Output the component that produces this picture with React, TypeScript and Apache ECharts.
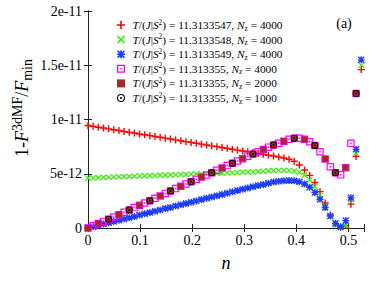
import React, { useEffect, useRef } from 'react';
import * as echarts from 'echarts';

// density grid (Nz = 4000)
const nFine = [
  0, 0.0099, 0.0198, 0.0297, 0.0396, 0.0495, 0.0594, 0.0693, 0.0792, 0.0891,
  0.099, 0.1089, 0.1188, 0.1287, 0.1386, 0.1485, 0.1584, 0.1683, 0.1782, 0.1881,
  0.198, 0.2079, 0.2178, 0.2277, 0.2376, 0.2475, 0.2574, 0.2673, 0.2772, 0.2871,
  0.297, 0.3069, 0.3168, 0.3267, 0.3366, 0.3465, 0.3564, 0.3663, 0.3762, 0.3861,
  0.396, 0.4059, 0.4158, 0.4257, 0.4356, 0.4455, 0.4554, 0.4653, 0.4752, 0.4851,
  0.495, 0.5049, 0.5148, 0.5247,
];
// values in units of 1e-12
const redVals = [
  9.45, 9.37, 9.29, 9.22, 9.14, 9.06, 8.98, 8.90, 8.82, 8.75,
  8.67, 8.59, 8.51, 8.43, 8.36, 8.28, 8.20, 8.12, 8.04, 7.96,
  7.89, 7.81, 7.73, 7.65, 7.57, 7.50, 7.42, 7.34, 7.26, 7.18,
  7.10, 7.03, 6.95, 6.87, 6.79, 6.71, 6.63, 6.55, 6.45, 6.33,
  6.15, 5.80, 5.35, 4.85, 4.20, 3.35, 2.30, 1.20, 0.40, 0.06,
  0.20, 2.20, 6.60, 14.6,
];
const greenVals = [
  4.60, 4.62, 4.64, 4.66, 4.68, 4.70, 4.72, 4.73, 4.75, 4.77,
  4.79, 4.81, 4.82, 4.84, 4.86, 4.88, 4.89, 4.91, 4.93, 4.94,
  4.96, 4.98, 4.99, 5.01, 5.03, 5.04, 5.06, 5.08, 5.09, 5.11,
  5.13, 5.15, 5.17, 5.20, 5.23, 5.27, 5.29, 5.31, 5.32, 5.30,
  5.25, 5.12, 4.88, 4.45, 3.82, 2.98, 2.00, 1.05, 0.28, 0.03,
  0.22, 2.60, 6.90, 15.0,
];
const blueVals = [
  0, 0.12, 0.24, 0.36, 0.48, 0.60, 0.71, 0.83, 0.95, 1.07,
  1.19, 1.31, 1.43, 1.55, 1.67, 1.79, 1.90, 2.02, 2.14, 2.26,
  2.38, 2.50, 2.62, 2.74, 2.86, 2.98, 3.09, 3.21, 3.33, 3.45,
  3.57, 3.68, 3.80, 3.91, 4.02, 4.13, 4.24, 4.31, 4.36, 4.38,
  4.35, 4.26, 4.06, 3.75, 3.28, 2.65, 1.90, 1.10, 0.43, 0.12,
  0.68, 2.78, 7.25, 15.5,
];
const pinkVals = [
  0, 0.20, 0.41, 0.61, 0.80, 1.02, 1.23, 1.45, 1.66, 1.88,
  2.09, 2.31, 2.52, 2.74, 2.96, 3.19, 3.41, 3.63, 3.84, 4.06,
  4.27, 4.48, 4.69, 4.89, 5.10, 5.32, 5.53, 5.75, 5.96, 6.18,
  6.39, 6.61, 6.82, 7.03, 7.24, 7.45, 7.65, 7.80, 8.00, 8.17,
  8.27, 8.27, 8.17, 7.95, 7.60, 7.03, 6.36, 5.65, 5.10, 4.90,
  5.56, 7.80, 12.4,
];
// Nz = 2000 grid
const nHalf = [
  0, 0.0198, 0.0396, 0.0594, 0.0792, 0.099, 0.1188, 0.1386, 0.1584, 0.1782,
  0.198, 0.2178, 0.2376, 0.2574, 0.2772, 0.297, 0.3168, 0.3366, 0.3564, 0.3762,
  0.396, 0.4158, 0.4356, 0.4554, 0.4752, 0.495, 0.5148,
];
const brownVals = [
  0, 0.41, 0.80, 1.23, 1.66, 2.09, 2.52, 2.96, 3.41, 3.84,
  4.27, 4.69, 5.10, 5.53, 5.96, 6.39, 6.82, 7.24, 7.65, 8.00,
  8.27, 8.17, 7.60, 6.36, 5.10, 5.56, 12.4,
];
// Nz = 1000 grid
const nQuarter = [
  0.0396, 0.0792, 0.1188, 0.1584, 0.198, 0.2376, 0.2772, 0.3168, 0.3564, 0.396,
  0.4356, 0.4752, 0.5148,
];
const blackVals = [
  0.80, 1.66, 2.52, 3.41, 4.27, 5.10, 5.96, 6.82, 7.65, 8.27,
  7.60, 5.10, 12.4,
];

const tempLabels = ['11.3133547', '11.3133548', '11.3133549', '11.313355', '11.313355', '11.313355'];
const nzLabels = ['4000', '4000', '4000', '4000', '2000', '1000'];
const yTickLabels = ['0', '5e-12', '1e-11', '1.5e-11', '2e-11'];
const xTickLabels = ['0', '0.1', '0.2', '0.3', '0.4', '0.5'];

const seriesNames = tempLabels.map((t, i) => `T/(J|S²) = ${t}, Nz = ${nzLabels[i]}`);

const SERIF = '"Liberation Serif", "DejaVu Serif", serif';

const symPlus = 'path://M4 0H6V4H10V6H6V10H4V6H0V4H4Z';
const symX = 'path://M0 1.4L1.4 0L5 3.6L8.6 0L10 1.4L6.4 5L10 8.6L8.6 10L5 6.4L1.4 10L0 8.6L3.6 5Z';
const symStar = 'path://M4 0H6V4H10V6H6V10H4V6H0V4H4Z M0 1.4L1.4 0L5 3.6L8.6 0L10 1.4L6.4 5L10 8.6L8.6 10L5 6.4L1.4 10L0 8.6L3.6 5Z';
const symOpenSq = 'path://M0 0H10V10H0Z M1.6 1.6V8.4H8.4V1.6Z M4 4H6V6H4Z';
const symSq = 'path://M0 0H10V10H0Z';
const symRing = 'path://M5 0A5 5 0 1 1 5 10A5 5 0 1 1 5 0Z M5 1.4A3.6 3.6 0 1 0 5 8.6A3.6 3.6 0 1 0 5 1.4Z M5 3.7A1.3 1.3 0 1 1 5 6.3A1.3 1.3 0 1 1 5 3.7Z';

const zip = (xs: number[], ys: number[]) => ys.map((y, i) => [xs[i], y]);

export default function App() {
  const ref = useRef<HTMLDivElement>(null);
  useEffect(() => {
    document.body.style.margin = '0';
    if (!ref.current) return;
    const chart = echarts.init(ref.current, null, { renderer: 'svg' });
    const axisLine = { show: true, lineStyle: { color: '#222', width: 1 } };
    const tick = { show: true, inside: true, length: 4, lineStyle: { color: '#222', width: 1 } };
    const legendRich = {
      r: { fontFamily: SERIF, fontSize: 11.3, color: '#000', lineHeight: 14 },
      i: { fontFamily: SERIF, fontSize: 11.3, fontStyle: 'italic', color: '#000', lineHeight: 14 },
      sup: { fontFamily: SERIF, fontSize: 7.5, color: '#000', verticalAlign: 'top' },
      sub: { fontFamily: SERIF, fontSize: 7.5, color: '#000', verticalAlign: 'bottom' },
    };
    const legendFmt = (name: string) => {
      const i = seriesNames.indexOf(name);
      return `{i|T}{r|/(}{i|J}{r||}{i|S}{sup|2}{r|) = ${tempLabels[i]}, }{i|N}{sub|z}{r| = ${nzLabels[i]}}`;
    };
    const mk = (name: string, data: number[][], symbol: string, size: number, color: string) => ({
      name,
      type: 'scatter',
      data,
      symbol,
      symbolSize: size,
      itemStyle: { color, opacity: 1 },
      emphasis: { disabled: true },
      xAxisIndex: 0,
      yAxisIndex: 0,
    });
    chart.setOption({
      animation: false,
      grid: { left: 88, right: 18, top: 11, bottom: 57 },
      xAxis: [
        {
          type: 'value', min: 0, max: 0.53, interval: 0.1,
          axisLine, axisTick: tick, splitLine: { show: false },
          axisLabel: {
            fontFamily: SERIF, fontSize: 14, color: '#000', margin: 5,
            formatter: (v: number) => {
              const k = Math.round(v * 10);
              return Math.abs(v * 10 - k) < 1e-6 && k < xTickLabels.length ? xTickLabels[k] : '';
            },
          },
        },
        {
          type: 'value', position: 'top', min: 0, max: 0.53, interval: 0.1,
          axisLine, axisTick: tick, axisLabel: { show: false }, splitLine: { show: false },
        },
      ],
      yAxis: [
        {
          type: 'value', min: 0, max: 20, interval: 5,
          axisLine, axisTick: tick, splitLine: { show: false },
          axisLabel: {
            fontFamily: SERIF, fontSize: 14, color: '#000', margin: 6,
            formatter: (v: number) => yTickLabels[Math.round(v / 5)] ?? '',
          },
        },
        {
          type: 'value', position: 'right', min: 0, max: 20, interval: 5,
          axisLine, axisTick: tick, axisLabel: { show: false }, splitLine: { show: false },
        },
      ],
      legend: {
        orient: 'vertical', left: 112, top: 13, itemWidth: 13, itemHeight: 8, itemGap: 0.6,
        data: seriesNames, formatter: legendFmt, selectedMode: false,
        textStyle: { rich: legendRich, fontFamily: SERIF, fontSize: 11.3, color: '#000' },
      },
      series: [
        mk(seriesNames[0], zip(nFine, redVals), symPlus, 7, '#ff0000'),
        mk(seriesNames[1], zip(nFine, greenVals), symX, 6, '#33ee00'),
        mk(seriesNames[2], zip(nFine, blueVals), symStar, 7, '#1a3cff'),
        mk(seriesNames[3], zip(nFine, pinkVals), symOpenSq, 7.5, '#ff00ff'),
        mk(seriesNames[4], zip(nHalf, brownVals), symSq, 6, '#a52a2a'),
        mk(seriesNames[5], zip(nQuarter, blackVals), symRing, 7, '#000000'),
      ],
      graphic: [
        {
          type: 'text', x: 344, y: 23,
          style: { text: '(a)', fontFamily: SERIF, fontSize: 14, fill: '#000', align: 'center', verticalAlign: 'middle' },
        },
        {
          type: 'text', x: 226, y: 263,
          style: { text: 'n', fontFamily: SERIF, fontSize: 18, fontStyle: 'italic', fill: '#000', align: 'center', verticalAlign: 'middle' },
        },
        {
          type: 'text', x: 22, y: 108, rotation: Math.PI / 2,
          style: {
            text: '{r|1-}{i|F}{sup|3dMF}{r|/}{i|F}{sub|min}',
            align: 'center', verticalAlign: 'middle',
            rich: {
              r: { fontFamily: SERIF, fontSize: 18, fill: '#000', lineHeight: 24 },
              i: { fontFamily: SERIF, fontSize: 18, fontStyle: 'italic', fill: '#000', lineHeight: 24 },
              sup: { fontFamily: SERIF, fontSize: 14, fill: '#000', verticalAlign: 'top' },
              sub: { fontFamily: SERIF, fontSize: 14, fill: '#000', verticalAlign: 'bottom' },
            },
          },
        },
      ],
    });
    return () => chart.dispose();
  }, []);
  return <div ref={ref} style={{ width: 382, height: 285 }} />;
}
